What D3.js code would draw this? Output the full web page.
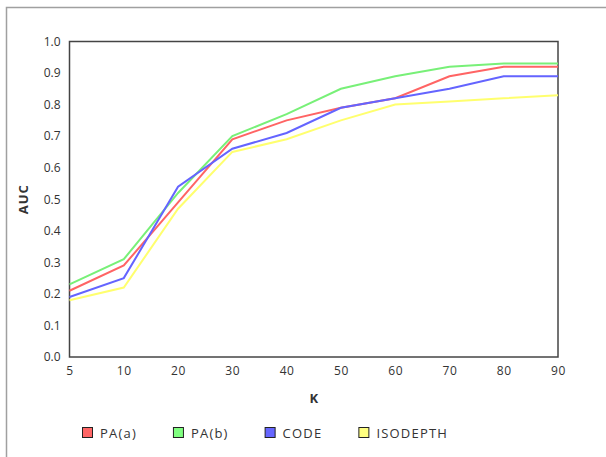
<!DOCTYPE html>
<html lang="en">
<head>
    <meta charset="UTF-8">
    <title>AUC vs K</title>
    <script src="https://d3js.org/d3.v7.min.js"></script>
    <style>
        body { margin: 0; background: #fff; }
        text { font-family: "Open Sans", sans-serif; }
    </style>
</head>
<body>
    <svg id="chart" width="606" height="457"></svg>
    <script>
        // data
        const kValues = ['5', '10', '20', '30', '40', '50', '60', '70', '80', '90'];
        const paA = [0.21, 0.29, 0.49, 0.69, 0.75, 0.79, 0.82, 0.89, 0.92, 0.92];
        const paB = [0.23, 0.31, 0.52, 0.70, 0.77, 0.85, 0.89, 0.92, 0.93, 0.93];
        const code = [0.19, 0.25, 0.54, 0.66, 0.71, 0.79, 0.82, 0.85, 0.89, 0.89];
        const isodepth = [0.18, 0.22, 0.47, 0.65, 0.69, 0.75, 0.80, 0.81, 0.82, 0.83];
        const yTicks = [0, 0.1, 0.2, 0.3, 0.4, 0.5, 0.6, 0.7, 0.8, 0.9, 1.0];
        const seriesNames = ['PA(a)', 'PA(b)', 'CODE', 'ISODEPTH'];

        const lineColors = ['#ff6464', '#78f078', '#6464ff', '#ffff6e'];
        const swatchColors = ['#ff6666', '#80ff80', '#6666ff', '#ffff80'];

        const series = [paA, paB, code, isodepth].map((vals, i) => ({
            name: seriesNames[i],
            values: vals,
            color: lineColors[i],
            swatch: swatchColors[i]
        }));

        const svg = d3.select('#chart');
        const margin = { top: 41.5, left: 69.5, right: 48, bottom: 100 };

        // outer frame (only top/left visible in the reference)
        svg.append('rect')
            .attr('x', 6.5).attr('y', 7.5)
            .attr('width', 700).attr('height', 600)
            .attr('fill', 'none')
            .attr('stroke', '#a0a0a0')
            .attr('stroke-width', 1.5);

        const x = d3.scalePoint()
            .domain(kValues)
            .range([margin.left, 558]);

        const y = d3.scaleLinear()
            .domain([0, 1])
            .range([357, margin.top]);

        // plot box
        svg.append('rect')
            .attr('x', margin.left).attr('y', margin.top)
            .attr('width', 558 - margin.left).attr('height', 357 - margin.top)
            .attr('fill', 'none')
            .attr('stroke', '#444')
            .attr('stroke-width', 1.5);

        // x axis labels
        const xAxis = svg.append('g')
            .attr('transform', 'translate(0,357)')
            .call(d3.axisBottom(x).tickSize(0).tickPadding(9));
        xAxis.select('.domain').remove();
        xAxis.selectAll('text')
            .attr('font-family', '"Open Sans", sans-serif')
            .attr('font-size', 12)
            .attr('letter-spacing', 0.6)
            .attr('fill', '#333');

        // y axis labels
        const yAxis = svg.append('g')
            .attr('transform', `translate(${margin.left},0)`)
            .call(d3.axisLeft(y).tickValues(yTicks).tickFormat(d3.format('.1f')).tickSize(0).tickPadding(9));
        yAxis.select('.domain').remove();
        yAxis.selectAll('text')
            .attr('font-family', '"Open Sans", sans-serif')
            .attr('font-size', 12)
            .attr('fill', '#333');

        // axis titles
        svg.append('text')
            .attr('x', (margin.left + 558) / 2)
            .attr('y', 403)
            .attr('text-anchor', 'middle')
            .attr('font-size', 13)
            .attr('font-weight', 'bold')
            .attr('fill', '#333')
            .text('K');

        svg.append('text')
            .attr('transform', `translate(28,${(margin.top + 357) / 2}) rotate(-90)`)
            .attr('text-anchor', 'middle')
            .attr('font-size', 13)
            .attr('font-weight', 'bold')
            .attr('letter-spacing', 1)
            .attr('fill', '#333')
            .text('AUC');

        // lines
        const line = d3.line()
            .x((d, i) => x(kValues[i]))
            .y(d => y(d));

        svg.selectAll('.line')
            .data(series)
            .enter().append('path')
            .attr('class', 'line')
            .attr('fill', 'none')
            .attr('stroke', d => d.color)
            .attr('stroke-width', 2)
            .attr('d', d => line(d.values));

        // legend
        const legend = svg.append('g').attr('transform', 'translate(82,427)');
        let lx = 0;
        series.forEach(s => {
            const g = legend.append('g').attr('transform', `translate(${lx},0)`);
            g.append('rect')
                .attr('x', 0.5).attr('y', 0.5)
                .attr('width', 10).attr('height', 10)
                .attr('fill', s.swatch)
                .attr('stroke', '#222')
                .attr('stroke-width', 1);
            const t = g.append('text')
                .attr('x', 18)
                .attr('y', 10.5)
                .attr('font-size', 13)
                .attr('letter-spacing', 1.2)
                .attr('fill', '#333')
                .text(s.name);
            lx += 18 + t.node().getComputedTextLength() + 36;
        });
    </script>
</body>
</html>
